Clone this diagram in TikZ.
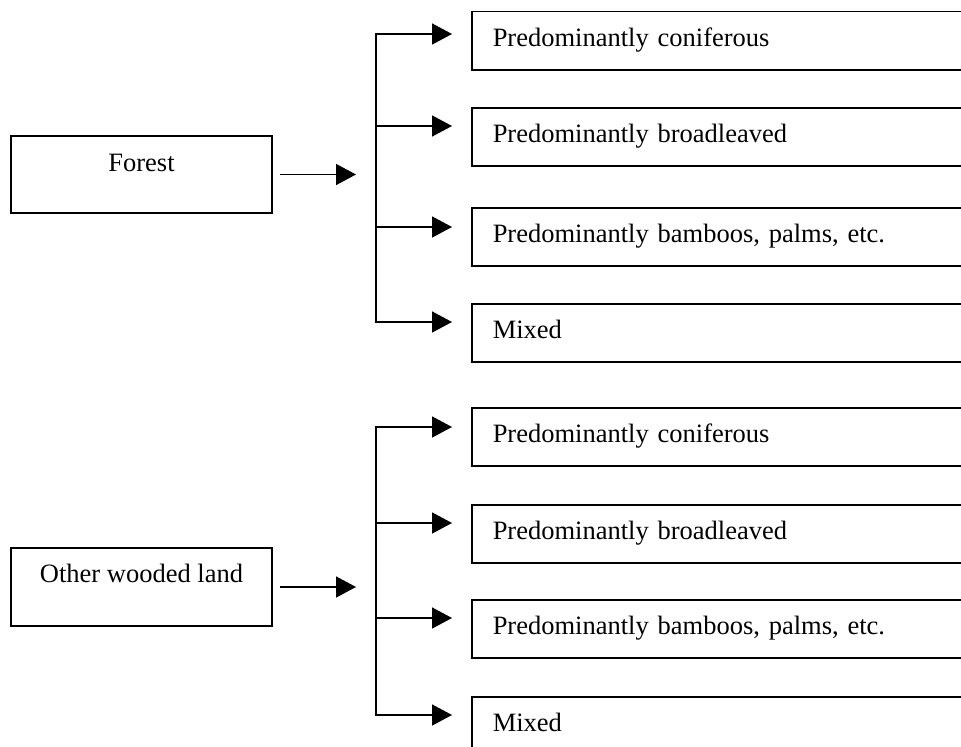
\documentclass[tikz,border=0pt]{standalone}
\usepackage{fontspec}
\setmainfont{Liberation Serif}
\usetikzlibrary{arrows.meta}
\begin{document}
\begin{tikzpicture}[x=1bp,y=-1bp,
  line width=1.5bp,
  every node/.style={font=\fontsize{26.5bp}{30bp}\selectfont},
  lbox/.style={draw, rectangle, inner sep=0pt, minimum width=261bp, minimum height=77bp, text height=19bp, text depth=26bp, align=center},
  rbox/.style={draw, rectangle, anchor=north west, inner xsep=21bp, inner ysep=0pt, text width=1500bp, align=left, minimum height=58bp, text height=19bp, text depth=7bp},
  arr/.style={-{Triangle[length=20bp,width=21bp]}},
  trunk/.style={line cap=rect}
]
\useasboundingbox (0,0) rectangle (961,747);
\begin{scope}
\clip (0,0) rectangle (961,747);

% Forest group
\node[lbox] (forest) at (141.5,174.5) {Forest};
\node[rbox] (f1) at (471,11) {Predominantly coniferous};
\node[rbox] (f2) at (471,107) {Predominantly broadleaved};
\node[rbox] (f3) at (471,207) {Predominantly bamboos, palms, etc.};
\node[rbox] (f4) at (471,303) {Mixed};
\coordinate (fa) at (356,174.5);
\coordinate (t1) at (376,34);
\coordinate (t2) at (376,126);
\coordinate (t3) at (376,227);
\coordinate (t4) at (376,322);
\draw[arr] ([xshift=7bp]forest.east) -- (fa);
\draw[trunk] (t1) -- (t4);
\foreach \i in {1,2,3,4}{
  \draw[arr, shorten >=19bp] (t\i) -- (t\i -| f\i.west);
}

% Other wooded land group
\node[lbox, minimum height=78bp, text depth=29bp] (owl) at (141.5,587) {Other wooded land};
\node[rbox] (o1) at (471,407) {Predominantly coniferous};
\node[rbox] (o2) at (471,504) {Predominantly broadleaved};
\node[rbox] (o3) at (471,599) {Predominantly bamboos, palms, etc.};
\node[rbox] (o4) at (471,696) {Mixed};
\coordinate (oa) at (356,587);
\coordinate (u1) at (376,427);
\coordinate (u2) at (376,523);
\coordinate (u3) at (376,618);
\coordinate (u4) at (376,715);
\draw[arr] ([xshift=7bp]owl.east) -- (oa);
\draw[trunk] (u1) -- (u4);
\foreach \i in {1,2,3,4}{
  \draw[arr, shorten >=19bp] (u\i) -- (u\i -| o\i.west);
}
\end{scope}
\end{tikzpicture}
\end{document}
